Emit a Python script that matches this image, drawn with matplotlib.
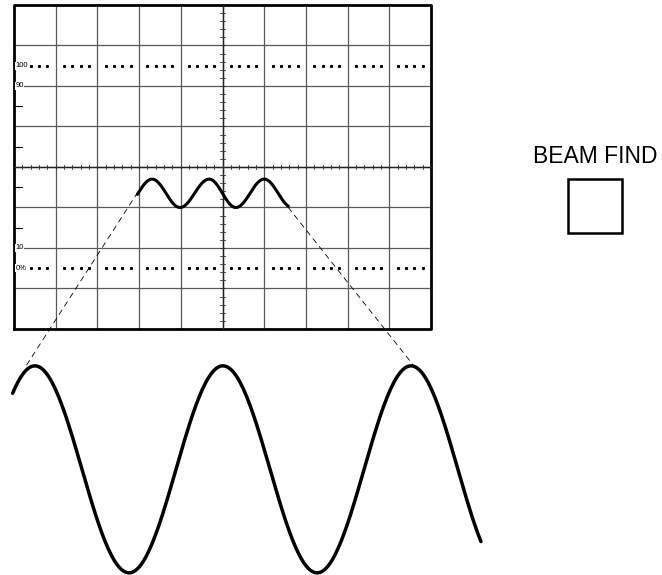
import matplotlib.pyplot as plt
import numpy as np

# screen graticule, in divisions (10 x 8, centre at 5, 0)
n_cols, n_rows = 10, 8
pct_lines = [2.5, -2.5]            # 100% / 0% dotted lines
pct_labels = [(2.5, '100'), (2.0, '90'), (-2.0, '10'), (-2.5, '0%')]
edge_ticks_y = [2.5, 1.5, 0.5, -0.5, -1.5]

# small trace on the screen: extrema (x, y in div)
small_x = [2.64, 3.31, 3.98, 4.68, 5.32, 6.00, 6.67]
small_y = [-1.00, -0.30, -1.00, -0.30, -1.00, -0.30, -1.00]
small_span = (2.95, 6.59)

# magnified trace below the screen
big_x = [-1.75, 0.50, 2.76, 5.01, 7.27, 9.52, 11.77]
big_y = [-10.02, -4.91, -10.02, -4.91, -10.02, -4.91, -10.02]
big_span = (-0.05, 11.22)

# dashed guide lines from screen trace to magnified trace
guides = [((2.97, -0.62), (0.29, -4.91)), ((6.57, -0.99), (9.59, -4.91))]

button_label = 'BEAM FIND'
button_box = (13.29, -1.63, 1.29, 1.33)   # x, y, w, h


def trace(xs, ys, span, n=60):
    # join the extrema with half-cosine pieces
    px, py = [], []
    for i in range(len(xs) - 1):
        t = np.linspace(0, 1, n)
        px.append(xs[i] + (xs[i + 1] - xs[i]) * t)
        py.append(ys[i] + (ys[i + 1] - ys[i]) * (1 - np.cos(np.pi * t)) / 2)
    px, py = np.concatenate(px), np.concatenate(py)
    keep = (px >= span[0]) & (px <= span[1])
    return px[keep], py[keep]


fig = plt.figure(figsize=(6.62, 5.75), dpi=100)
ax = fig.add_axes([0, 0, 1, 1])
ax.set_xlim(-0.336, 15.54)
ax.set_ylim(-10.074, 4.123)
ax.axis('off')

grid_c = '#5a5a5a'
for i in range(1, n_cols):
    ax.plot([i, i], [-n_rows / 2, n_rows / 2], color=grid_c, lw=0.9)
for j in range(1, n_rows):
    y = -n_rows / 2 + j
    ax.plot([0, n_cols], [y, y], color=grid_c, lw=0.9)
ax.plot([0, n_cols, n_cols, 0, 0], [-4, -4, 4, 4, -4], color='black', lw=2.0)

# centre axes with minor ticks
ax.plot([0, n_cols], [0, 0], color='#222222', lw=1.0)
ax.plot([5, 5], [-4, 4], color='#222222', lw=1.0)
for x in np.arange(0.2, n_cols, 0.2):
    ax.plot([x, x], [-0.06, 0.06], color='#333333', lw=0.6)
for y in np.arange(-3.8, 4, 0.2):
    ax.plot([4.94, 5.06], [y, y], color='#333333', lw=0.6)

# left edge short marks
for y in edge_ticks_y:
    ax.plot([0, 0.18], [y, y], color='black', lw=0.8)

# 100% / 0% dotted lines
for y in pct_lines:
    dots = [c + f for c in range(n_cols) for f in (0.2, 0.4, 0.6, 0.8)]
    ax.plot(dots, [y] * len(dots), ls='none', marker='s', ms=1.2, color='black')

for y, lab in pct_labels:
    ax.text(0.03, y, lab, fontsize=5.5, family='Liberation Sans', ha='left', va='center',
            bbox=dict(facecolor='white', edgecolor='none', pad=0.3))

sx, sy = trace(small_x, small_y, small_span)
ax.plot(sx, sy, color='black', lw=2.2, solid_capstyle='round')

bx, by = trace(big_x, big_y, big_span)
ax.plot(bx, by, color='black', lw=2.5, solid_capstyle='round', clip_on=False)

for (x0, y0), (x1, y1) in guides:
    ax.plot([x0, x1], [y0, y1], color='black', lw=0.6, dashes=(7, 5))

ax.text(13.93, 0.25, button_label, fontsize=16.5, family='Liberation Sans', ha='center', va='center')
bxy = button_box
ax.add_patch(plt.Rectangle((bxy[0], bxy[1]), bxy[2], bxy[3], fill=False, color='black', lw=1.8))

fig.savefig('out.png', dpi=100)
